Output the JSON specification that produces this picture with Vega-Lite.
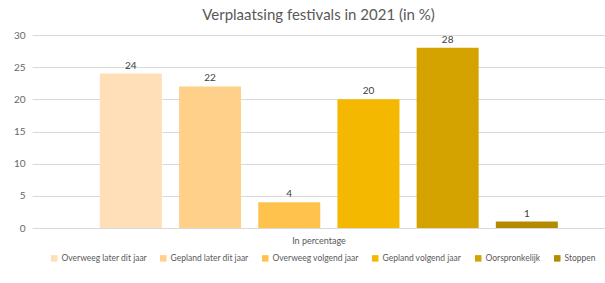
{
  "$schema": "https://vega.github.io/schema/vega-lite/v6.json",
  "width": 573,
  "height": 193,
  "padding": {"left": 32, "top": 35, "right": 0, "bottom": 55},
  "autosize": {"type": "none"},
  "background": "white",
  "config": {
    "font": "Lato",
    "view": {"stroke": null},
    "axis": {"labelFont": "Lato", "titleFont": "Lato"},
    "legend": {"labelFont": "Lato"}
  },
  "title": {
    "text": "Verplaatsing festivals in 2021 (in %)",
    "fontSize": 15,
    "fontWeight": "normal",
    "color": "#595959",
    "anchor": "middle",
    "offset": 7
  },
  "data": {
    "values": [
      {"category": "In percentage", "serie": "Overweeg later dit jaar", "value": 24},
      {"category": "In percentage", "serie": "Gepland later dit jaar", "value": 22},
      {"category": "In percentage", "serie": "Overweeg volgend jaar", "value": 4},
      {"category": "In percentage", "serie": "Gepland volgend jaar", "value": 20},
      {"category": "In percentage", "serie": "Oorspronkelijk", "value": 28},
      {"category": "In percentage", "serie": "Stoppen", "value": 1}
    ]
  },
  "encoding": {
    "x": {
      "field": "serie",
      "type": "nominal",
      "sort": null,
      "scale": {"paddingInner": 0.217, "paddingOuter": 0.726, "align": 0.59},
      "axis": {
        "title": "In percentage",
        "labels": false,
        "ticks": false,
        "domain": false,
        "titleFontSize": 9,
        "titleFontWeight": "normal",
        "titleColor": "#595959",
        "titlePadding": 8
      }
    },
    "y": {
      "field": "value",
      "type": "quantitative",
      "scale": {"domain": [0, 30]},
      "axis": {
        "title": null,
        "values": [0, 5, 10, 15, 20, 25, 30],
        "domain": false,
        "ticks": false,
        "labelFontSize": 10,
        "labelColor": "#666666",
        "labelPadding": 7,
        "gridColor": "#D9D9D9",
        "gridWidth": 1
      }
    }
  },
  "layer": [
    {
      "mark": {"type": "bar"},
      "encoding": {
        "color": {
          "field": "serie",
          "type": "nominal",
          "sort": null,
          "scale": {
            "domain": ["Overweeg later dit jaar", "Gepland later dit jaar", "Overweeg volgend jaar", "Gepland volgend jaar", "Oorspronkelijk", "Stoppen"],
            "range": ["#FFDFB8", "#FFD08A", "#FFC34D", "#F5B800", "#D4A300", "#B58A00"]
          },
          "legend": {
            "title": null,
            "orient": "none",
            "legendX": 18,
            "legendY": 219,
            "direction": "horizontal",
            "columns": 6,
            "symbolType": "square",
            "symbolSize": 42,
            "symbolStrokeWidth": 0,
            "labelFontSize": 8.5,
            "labelColor": "#595959",
            "labelOffset": 3,
            "columnPadding": 12
          }
        }
      }
    },
    {
      "mark": {"type": "text", "dy": -8, "fontSize": 10, "color": "#404040"},
      "encoding": {"text": {"field": "value", "type": "quantitative"}}
    }
  ]
}
